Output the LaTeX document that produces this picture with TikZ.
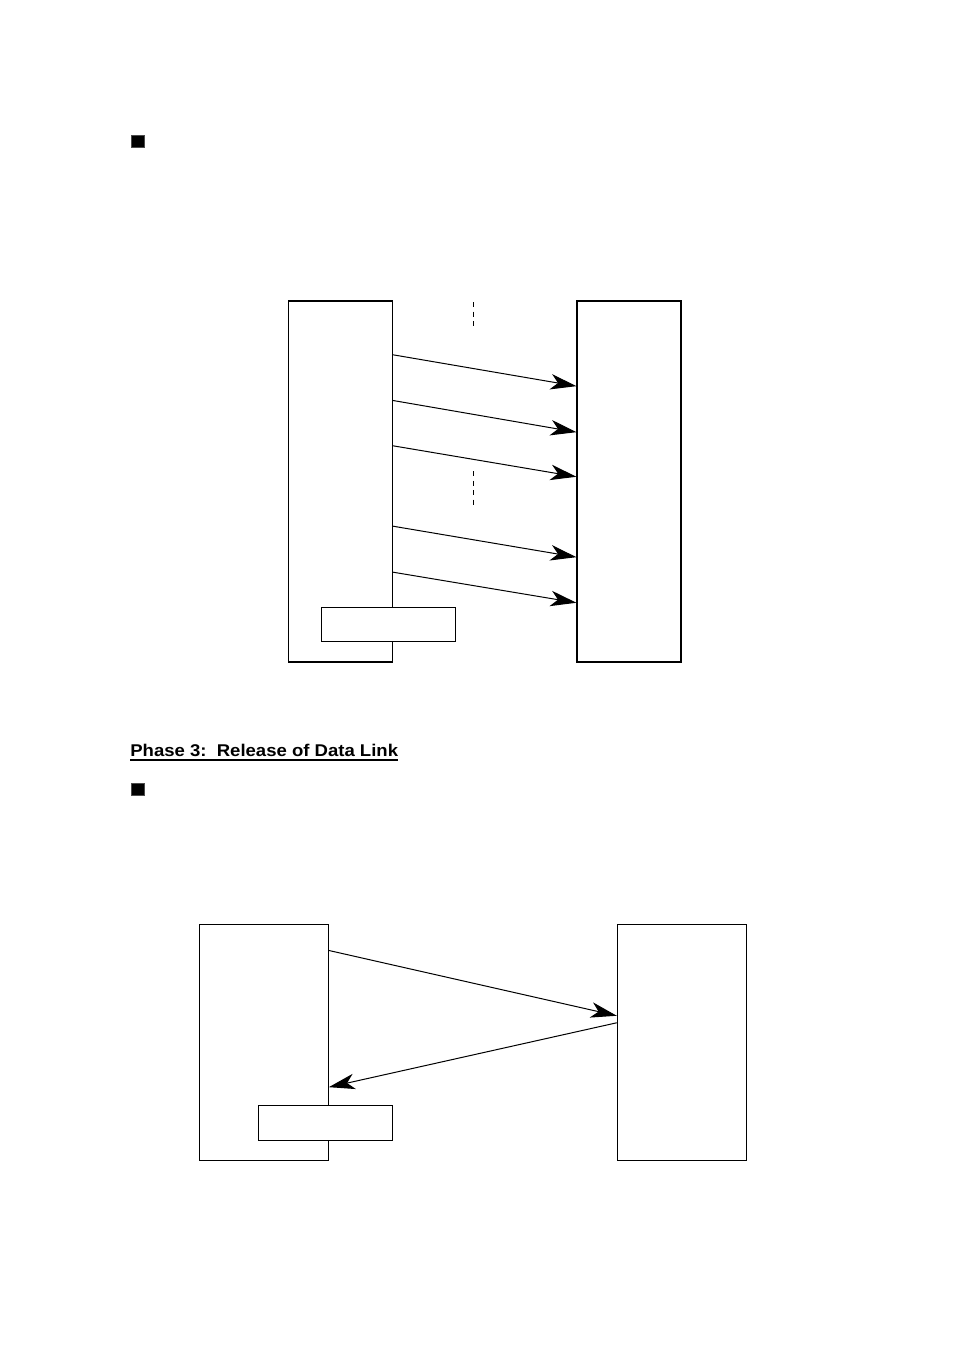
\documentclass[tikz,border=0pt]{standalone}
\usepackage{fontspec}
\newfontfamily\phasefont[FakeStretch=1.09]{Liberation Sans}
\usetikzlibrary{arrows.meta,calc}
\tikzset{
  box/.style={draw, line width=0.65pt, fill=white, inner sep=0pt},
  arr/.style={line width=0.6pt, -{Stealth[length=15.6pt, width=9.3pt, inset=4.4pt]}},
  guide/.style={line width=0.6pt, dash pattern=on 3pt off 2.7pt},
  bullet/.style={fill=black, draw=black!70, line width=0.3pt},
}
\begin{document}
\begin{tikzpicture}[x=0.6pt, y=-0.6pt]
\useasboundingbox (0,0) rectangle (954,1348);

% bullets
\path[bullet] (131.7,135) rectangle (144.3,147.7);
\path[bullet] (131.7,783.3) rectangle (144.3,795.7);

% top diagram
\node[box, minimum width=62.4pt, minimum height=216.6pt] (L1) at (340.3,481.5) {};
\node[box, minimum width=62.4pt, minimum height=216.6pt] (R1) at (629,481.5) {};
\node[box, minimum width=80.6pt, minimum height=20.6pt] (S1) at (388.5,624.5) {};

\coordinate (d1a) at (473.3,302);
\coordinate (d1b) at (473.3,330);
\coordinate (d2a) at (473.3,471);
\coordinate (d2b) at (473.3,508);
\draw[guide] (d1a) -- (d1b);
\draw[guide] (d2a) -- (d2b);

\draw[arr] ($(L1.north east)+(0,54.3)$) -- ($(R1.north west)+(0,85.7)$);
\draw[arr] ($(L1.north east)+(0,100)$) -- ($(R1.north west)+(0,131.7)$);
\draw[arr] ($(L1.north east)+(0,145.3)$) -- ($(R1.north west)+(0,176.3)$);
\draw[arr] ($(L1.north east)+(0,225.7)$) -- ($(R1.north west)+(0,256.7)$);
\draw[arr] ($(L1.north east)+(0,271.7)$) -- ($(R1.north west)+(0,302.3)$);

% heading
\node[anchor=base west, inner sep=0pt, font=\phasefont\bfseries\fontsize{10.2pt}{12pt}\selectfont] (T) at (130,756.5) {Phase 3:\ \ Release of Data Link};
\draw[line width=0.65pt] ([yshift=-2.1pt]T.base west) -- ([yshift=-2.1pt]T.base east);

% bottom diagram
\node[box, minimum width=77.4pt, minimum height=141.6pt] (L2) at (263.8,1042.3) {};
\node[box, minimum width=77.6pt, minimum height=141.6pt] (R2) at (682,1042.3) {};
\node[box, minimum width=80.4pt, minimum height=21pt] (S2) at (325.3,1122.8) {};

\draw[arr] ($(L2.north east)+(0,26.7)$) -- ($(R2.north west)+(0,92)$);
\draw[arr] ($(R2.north west)+(0,99)$) -- ($(L2.north east)+(0,163.4)$);
\end{tikzpicture}
\end{document}
